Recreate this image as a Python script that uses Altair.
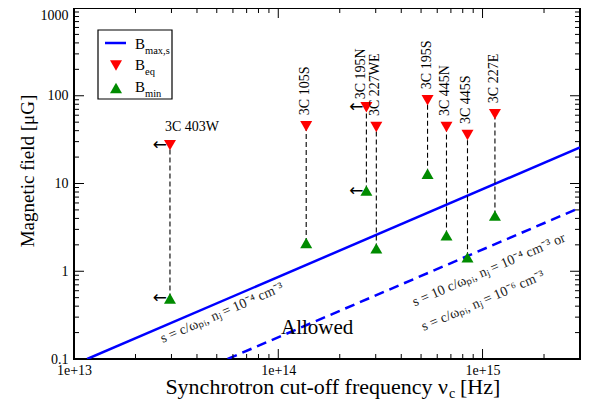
import altair as alt
import pandas as pd

# ---------------- data ----------------
names = ["3C 403W", "3C 105S", "3C 195N", "3C 227WE", "3C 195S", "3C 445N", "3C 445S", "3C 227E"]
nu = [2.95e13, 1.37e14, 2.7e14, 3.02e14, 5.38e14, 6.66e14, 8.44e14, 1.15e15]
b_eq = [27.4, 45.0, 74.0, 44.0, 89.0, 44.0, 35.7, 61.7]
b_min = [0.49, 2.1, 8.3, 1.82, 12.9, 2.56, 1.44, 4.31]
upper_limit = [True, False, True, False, False, False, False, False]
vertical_label = [False, True, True, True, True, True, True, True]

solid_nu = [1.16e13, 3.0e15]
solid_b = [0.1, 25.8]
dashed_nu = [5.65e13, 3.0e15]
dashed_b = [0.1, 5.3]

x_major = [1e13, 1e14, 1e15]
x_minor = [k * 1e13 for k in range(2, 10)] + [k * 1e14 for k in range(2, 10)] + [2e15, 3e15]
y_major = [0.1, 1, 10, 100, 1000]
y_minor = [k * d for d in (0.1, 1, 10, 100) for k in range(2, 10)]

ann_text = ["s = c/ωₚᵢ, nⱼ = 10⁻⁴ cm⁻³",
            "s = 10 c/ωₚᵢ, nⱼ = 10⁻⁴ cm⁻³ or",
            "s = c/ωₚᵢ, nⱼ = 10⁻⁶ cm⁻³"]
ann_nu = [5.3e13, 1.075e15, 1.005e15]
ann_b = [0.334, 1.03, 0.458]

allowed_nu = [1.55e14]
allowed_b = [0.225]

# ---------------- styling ----------------
W, H = 506, 351
FONT = "Liberation Serif"
RED = "#ff0000"
GREEN = "#008b00"
BLUE = "#0000ff"

xs = alt.Scale(type="log", domain=[1e13, 3e15])
ys = alt.Scale(type="log", domain=[0.1, 1000])
xaxis = alt.Axis(values=x_major, format=".0e", title=None, labelFlush=False,
                 labelPadding=4, labelOverlap=False, labelFont=FONT, labelFontSize=14,
                 labelColor="black", ticks=False, domain=False, grid=False)
yaxis = alt.Axis(values=y_major, format="~g", title=None, labelFlush=False,
                 labelPadding=6, labelOverlap=False, labelFont=FONT, labelFontSize=14,
                 labelColor="black", ticks=False, domain=False, grid=False,
                 labelBaseline={"condition": {"test": "datum.value >= 1000", "value": "top"},
                                "value": "middle"})

pts = pd.DataFrame({"name": names, "nu": nu, "beq": b_eq, "bmin": b_min,
                    "ul": upper_limit, "vert": vertical_label})
one = pd.DataFrame({"a": [0]})

X = lambda f: alt.X(f, type="quantitative", scale=xs, axis=xaxis)
Y = lambda f: alt.Y(f, type="quantitative", scale=ys, axis=yaxis)

layers = []

# lines
layers.append(alt.Chart(pd.DataFrame({"nu": solid_nu, "b": solid_b})).mark_line(
    color=BLUE, strokeWidth=2.5, clip=True).encode(x=X("nu"), y=Y("b")))
layers.append(alt.Chart(pd.DataFrame({"nu": dashed_nu, "b": dashed_b})).mark_line(
    color=BLUE, strokeWidth=2.5, strokeDash=[10, 6], clip=True).encode(x=X("nu"), y=Y("b")))

# vertical dashed connectors
layers.append(alt.Chart(pts).mark_rule(color="black", strokeWidth=1.1, strokeDash=[5, 3]).encode(
    x=X("nu"), y=Y("bmin"), y2=alt.Y2("beq")))

# markers
layers.append(alt.Chart(pts).mark_point(shape="triangle-down", filled=True, size=144, color=RED,
                                        opacity=1).encode(x=X("nu"), y=Y("beq")))
layers.append(alt.Chart(pts).mark_point(shape="triangle-up", filled=True, size=144, color=GREEN,
                                        opacity=1).encode(x=X("nu"), y=Y("bmin")))

# upper-limit arrows
ul = pts[pts["ul"]]
for col in ("beq", "bmin"):
    layers.append(alt.Chart(ul).mark_text(text="←", font="DejaVu Sans", fontSize=17, align="right",
                                          baseline="middle", dx=-3, color="black").encode(
        x=X("nu"), y=Y(col)))

# source labels
layers.append(alt.Chart(pts[~pts["vert"]]).mark_text(font=FONT, fontSize=14, align="left",
                                                    baseline="alphabetic", dx=-5, dy=-14).encode(
    x=X("nu"), y=Y("beq"), text="name:N"))
vert = pts[pts["vert"]]
layers.append(alt.Chart(vert[vert["name"] != "3C 195N"]).mark_text(
    font=FONT, fontSize=14, align="left", angle=270, baseline="middle", dx=11, dy=-1).encode(
    x=X("nu"), y=Y("beq"), text="name:N"))
layers.append(alt.Chart(vert[vert["name"] == "3C 195N"]).mark_text(
    font=FONT, fontSize=14, align="left", angle=270, baseline="middle", dx=8, dy=-5).encode(
    x=X("nu"), y=Y("beq"), text="name:N"))

# line annotations
layers.append(alt.Chart(pd.DataFrame({"t": ann_text, "nu": ann_nu, "b": ann_b})).mark_text(
    font=FONT, fontSize=14, angle=336.6, align="center", baseline="middle", color="#222222").encode(
    x=X("nu"), y=Y("b"), text="t:N"))
layers.append(alt.Chart(pd.DataFrame({"nu": allowed_nu, "b": allowed_b})).mark_text(
    text="Allowed", font=FONT, fontSize=21, align="center", baseline="middle").encode(
    x=X("nu"), y=Y("b")))

# inward ticks on all four sides
def xticks(vals, ln):
    d = pd.DataFrame({"v": vals})
    return [alt.Chart(d).mark_rule(color="black", strokeWidth=1).encode(
                x=X("v"), y=alt.value(H), y2=alt.value(H - ln)),
            alt.Chart(d).mark_rule(color="black", strokeWidth=1).encode(
                x=X("v"), y=alt.value(0), y2=alt.value(ln))]

def yticks(vals, ln):
    d = pd.DataFrame({"v": vals})
    return [alt.Chart(d).mark_rule(color="black", strokeWidth=1).encode(
                y=Y("v"), x=alt.value(0), x2=alt.value(ln)),
            alt.Chart(d).mark_rule(color="black", strokeWidth=1).encode(
                y=Y("v"), x=alt.value(W), x2=alt.value(W - ln))]

layers += xticks(x_major, 10) + xticks(x_minor, 5) + yticks(y_major, 10) + yticks(y_minor, 5)

# axis titles (with subscript)
def txt(t, x, y, size, align="left", angle=0, font=FONT):
    return alt.Chart(one).mark_text(text=t, font=font, fontSize=size, align=align,
                                    baseline="alphabetic", angle=angle, color="black").encode(
        x=alt.value(x), y=alt.value(y))

layers += [
    txt("Synchrotron cut-off frequency ν", 374, 386, 22, align="right"),
    txt("c", 375, 390, 14),
    txt("[Hz]", 386, 386, 22),
    txt("Magnetic field [μG]", -40, 163, 19, align="center", angle=270),
]

# legend (drawn by hand for the subscripts)
layers.append(alt.Chart(one).mark_rect(fill="white", stroke="black", strokeWidth=1.2).encode(
    x=alt.value(24), x2=alt.value(98), y=alt.value(22), y2=alt.value(91)))
layers.append(alt.Chart(one).mark_rule(color=BLUE, strokeWidth=2.5).encode(
    x=alt.value(31), x2=alt.value(52), y=alt.value(35)))
layers.append(alt.Chart(one).mark_point(shape="triangle-down", filled=True, size=144, color=RED, opacity=1).encode(
    x=alt.value(42), y=alt.value(57.5)))
layers.append(alt.Chart(one).mark_point(shape="triangle-up", filled=True, size=144, color=GREEN, opacity=1).encode(
    x=alt.value(42), y=alt.value(80)))
for base_y, sub in [(41, "max,s"), (62, "eq"), (84, "min")]:
    layers.append(txt("B", 61, base_y, 15))
    layers.append(txt(sub, 71, base_y + 5, 10.5))

chart = alt.layer(*layers).properties(
    width=W, height=H,
    padding={"left": 66, "top": 0, "right": 3, "bottom": 41},
    autosize=alt.AutoSizeParams(type="none"),
).configure_view(stroke="black", strokeWidth=2)

chart.save("out.html", embed_options={"renderer": "svg", "actions": False})
